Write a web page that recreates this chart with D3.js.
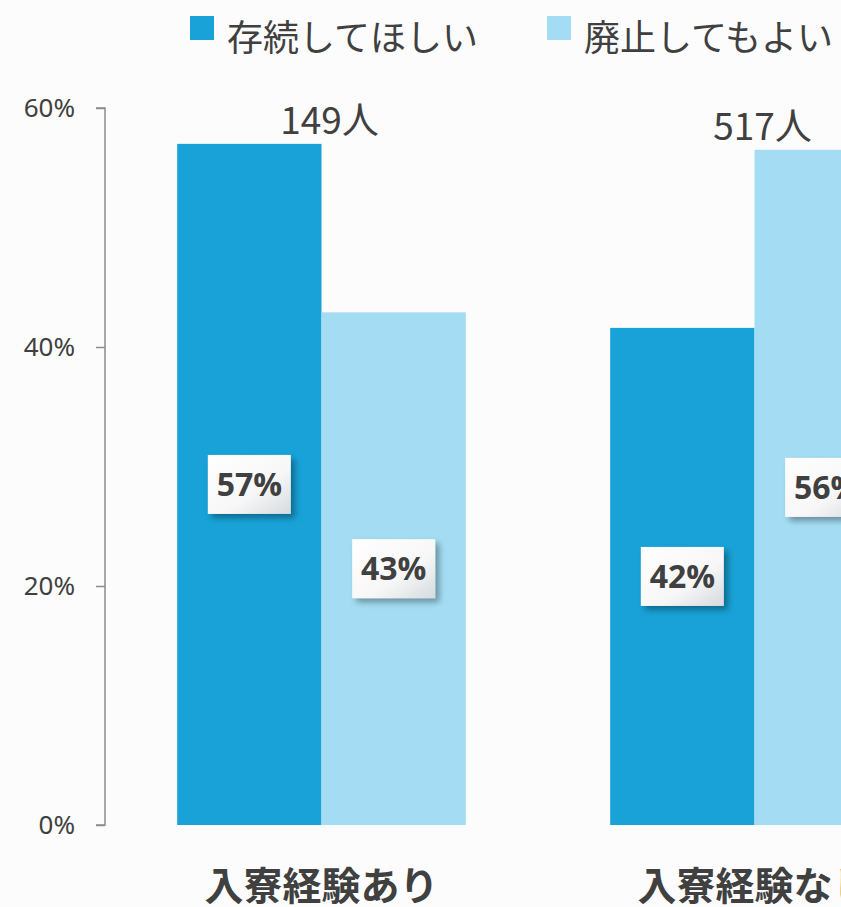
<!doctype html>
<html>
<head>
<meta charset="utf-8" />
<script src="https://cdn.jsdelivr.net/npm/d3@7"></script>
<style>
  body { margin: 0; background: #fcfcfc; }
  svg { display: block; }
</style>
</head>
<body>
<script>
 // data
 var categories = ["入寮経験あり", "入寮経験なし"];
 var seriesNames = ["存続してほしい", "廃止してもよい"];
 var keepValues = [57.0, 41.6];
 var abolishValues = [42.9, 56.5];
 var valueLabels = [["57%", "43%"], ["42%", "56%"]];
 var counts = ["149人", "517人"];
 var yTicks = [0, 20, 40, 60];
 var colors = ["#18a2d7", "#a4ddf3"];

 var w = 841, h = 907;
 var x0 = 105, x1 = 971, yBottom = 825, yTop = 108;

 var svg = d3.select("body").append("svg")
     .attr("width", w)
     .attr("height", h);

 var defs = svg.append("defs");
 var grad = defs.append("linearGradient")
     .attr("id", "boxgrad")
     .attr("x1", "0").attr("y1", "0").attr("x2", "1").attr("y2", "1");
 grad.append("stop").attr("offset", "0").attr("stop-color", "#ffffff");
 grad.append("stop").attr("offset", "0.6").attr("stop-color", "#f7f7f7");
 grad.append("stop").attr("offset", "1").attr("stop-color", "#d6dade");
 var shadow = defs.append("filter").attr("id", "shadow")
     .attr("x", "-20%").attr("y", "-20%").attr("width", "150%").attr("height", "150%");
 shadow.append("feDropShadow")
     .attr("dx", 4).attr("dy", 4).attr("stdDeviation", 3)
     .attr("flood-color", "#000").attr("flood-opacity", 0.35);

 var rows = categories.map(function(c, i){
     return {cat: c, vals: [keepValues[i], abolishValues[i]], labels: valueLabels[i], count: counts[i]};
 });

 var xScale = d3.scaleBand()
     .domain(categories)
     .range([x0, x1])
     .paddingInner(1/3)
     .paddingOuter(1/6);

 var xInner = d3.scaleBand()
     .domain([0, 1])
     .range([0, xScale.bandwidth()]);

 var yScale = d3.scaleLinear()
     .domain([0, 60])
     .range([yBottom, yTop]);

 // y axis
 var yAxis = d3.axisLeft(yScale)
     .tickValues(yTicks)
     .tickFormat(function(d){ return d + "%"; })
     .tickSize(9)
     .tickPadding(21);
 var gy = svg.append("g")
     .attr("transform", "translate(" + x0 + ",0)")
     .call(yAxis);
 gy.select(".domain").attr("stroke", "#8c8c8c").attr("stroke-width", 1.5)
   .attr("d", "M-9," + yTop + "H0V" + yBottom + "H-9");
 gy.selectAll(".tick line").attr("stroke", "#8c8c8c").attr("stroke-width", 1.5);
 gy.selectAll(".tick text")
     .attr("fill", "#404040")
     .attr("font-family", "'Noto Sans', sans-serif")
     .attr("font-size", "26px");

 // bars
 var groups = svg.selectAll(".grp")
     .data(rows)
     .enter()
     .append("g")
     .attr("class", "grp")
     .attr("transform", function(d){ return "translate(" + xScale(d.cat) + ",0)"; });

 groups.selectAll("rect")
     .data(function(d){ return d.vals; })
     .enter()
     .append("rect")
     .attr("x", function(d, i){ return xInner(i); })
     .attr("width", xInner.bandwidth())
     .attr("y", function(d){ return yScale(d); })
     .attr("height", function(d){ return yBottom - yScale(d); })
     .attr("fill", function(d, i){ return colors[i]; });

 // value label boxes
 var boxW = 83, boxH = 59;
 var lab = groups.selectAll(".lab")
     .data(function(d){ return d.vals.map(function(v, i){ return {v: v, t: d.labels[i]}; }); })
     .enter()
     .append("g")
     .attr("class", "lab")
     .attr("transform", function(d, i){
         var cx = xInner(i) + xInner.bandwidth() / 2;
         var cy = (yScale(d.v) + yBottom) / 2;
         return "translate(" + cx + "," + cy + ")";
     });
 lab.append("rect")
     .attr("x", -boxW / 2).attr("y", -boxH / 2)
     .attr("width", boxW).attr("height", boxH)
     .attr("fill", "url(#boxgrad)")
     .attr("filter", "url(#shadow)");
 lab.append("text")
     .attr("text-anchor", "middle")
     .attr("dy", "0.36em")
     .attr("fill", "#404040")
     .attr("font-family", "'Open Sans', 'Noto Sans', sans-serif")
     .attr("font-weight", "bold")
     .attr("font-size", "32px")
     .text(function(d){ return d.t; });

 // counts above groups
 groups.append("text")
     .attr("x", xScale.bandwidth() / 2 + 8)
     .attr("y", function(d){ return yScale(d3.max(d.vals)) - 10; })
     .attr("text-anchor", "middle")
     .attr("fill", "#404040")
     .attr("font-family", "'Noto Sans CJK JP', sans-serif")
     .attr("font-size", "37px")
     .text(function(d){ return d.count; });

 // category labels
 groups.append("text")
     .attr("x", xScale.bandwidth() / 2)
     .attr("y", 900)
     .attr("text-anchor", "middle")
     .attr("fill", "#404040")
     .attr("font-family", "'Noto Sans CJK JP', sans-serif")
     .attr("font-weight", "bold")
     .attr("font-size", "39px")
     .text(function(d){ return d.cat; });

 // legend
 var legX = [190, 547];
 var leg = svg.selectAll(".leg")
     .data(seriesNames)
     .enter()
     .append("g")
     .attr("class", "leg")
     .attr("transform", function(d, i){ return "translate(" + legX[i] + ",16)"; });
 leg.append("rect")
     .attr("width", 24).attr("height", 24)
     .attr("fill", function(d, i){ return colors[i]; });
 leg.append("text")
     .attr("x", 37)
     .attr("y", 24)
     .attr("dy", "0.3em")
     .attr("fill", "#404040")
     .attr("font-family", "'Noto Sans CJK JP', sans-serif")
     .attr("font-size", "36px")
     .text(function(d){ return d; });
</script>
</body>
</html>
